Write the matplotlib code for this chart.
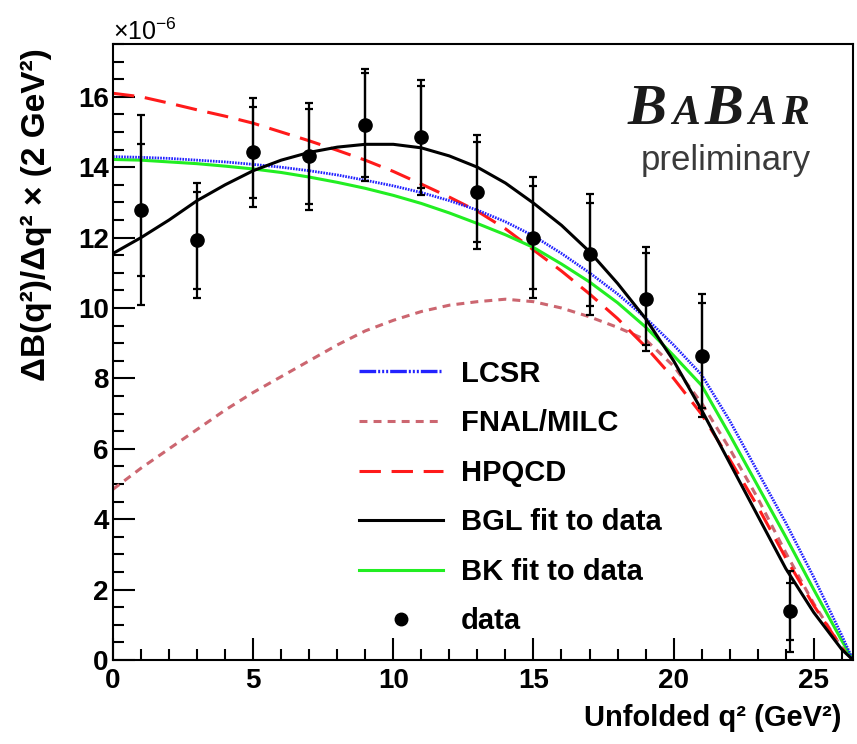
import matplotlib
matplotlib.use("Agg")
import matplotlib.pyplot as plt
from matplotlib.lines import Line2D
from matplotlib.ticker import MultipleLocator

plt.rcParams['font.family'] = ['Liberation Sans', 'DejaVu Sans']
plt.rcParams['mathtext.fontset'] = 'custom'
plt.rcParams['mathtext.rm'] = 'Liberation Sans'
plt.rcParams['mathtext.bf'] = 'Liberation Sans:bold'

# data points (x 1e-6)
q2_pts = [1, 3, 5, 7, 9, 11, 13, 15, 17, 19, 21, 24.15]
bf_pts = [12.78, 11.92, 14.42, 14.31, 15.2, 14.85, 13.3, 12.0, 11.52, 10.25, 8.65, 1.38]
err_stat = [1.87, 1.38, 1.3, 1.35, 1.47, 1.45, 1.43, 1.47, 1.47, 1.3, 1.5, 0.8]
err_tot = [2.7, 1.63, 1.54, 1.52, 1.6, 1.63, 1.62, 1.72, 1.72, 1.47, 1.75, 1.15]

# curves
q2_curve = [0, 1, 2, 3, 4, 5, 6, 7, 8, 9, 10, 11, 12, 13, 14, 15, 16, 17, 18, 19,
            20, 21, 22, 23, 24, 25, 26, 26.4]
lcsr = [14.3, 14.28, 14.25, 14.2, 14.15, 14.08, 14.0, 13.9, 13.78, 13.63, 13.47, 13.28,
        13.05, 12.78, 12.45, 12.05, 11.55, 11.0, 10.4, 9.72, 8.95, 8.1, 6.8, 5.35, 3.9,
        2.35, 0.7, 0]
fnal = [4.85, 5.45, 6.0, 6.55, 7.1, 7.6, 8.05, 8.5, 8.95, 9.35, 9.65, 9.9, 10.08, 10.18,
        10.25, 10.18, 10.0, 9.75, 9.45, 9.1, 8.35, 7.3, 6.0, 4.6, 3.05, 1.6, 0.35, 0]
hpqcd = [16.1, 16.0, 15.82, 15.63, 15.45, 15.25, 15.0, 14.75, 14.48, 14.2, 13.88, 13.52,
         13.15, 12.75, 12.25, 11.65, 11.05, 10.4, 9.7, 8.9, 8.0, 6.98, 5.7, 4.36, 2.9,
         1.55, 0.35, 0]
bgl = [11.55, 12.0, 12.5, 13.05, 13.5, 13.9, 14.2, 14.42, 14.57, 14.65, 14.65, 14.55,
       14.32, 14.0, 13.55, 12.98, 12.35, 11.6, 10.7, 9.7, 8.5, 7.1, 5.6, 4.1, 2.6, 1.35,
       0.3, 0]
bk = [14.22, 14.2, 14.15, 14.1, 14.03, 13.95, 13.85, 13.72, 13.57, 13.4, 13.2, 12.97,
      12.7, 12.4, 12.08, 11.72, 11.25, 10.74, 10.15, 9.46, 8.65, 7.8, 6.4, 4.95, 3.5,
      2.0, 0.55, 0]

W, H = 857, 744
fig = plt.figure(figsize=(W / 100, H / 100), dpi=100)
ax = fig.add_axes([113 / W, 1 - 660 / H, (853 - 113) / W, (660 - 44) / H])

fnal_dash = (2.6, 2.0)
hpqcd_dash = (7, 3.5)
ax.plot(q2_curve, fnal, color='#cc6670', lw=2.2, dashes=fnal_dash)
ax.plot(q2_curve, hpqcd, color='#ff1a1a', lw=2.2, dashes=hpqcd_dash)
ax.plot(q2_curve, bk, color='#22ee22', lw=2.2)
ax.plot(q2_curve, lcsr, color='#2222ff', lw=2.0, dashes=(0.6, 0.4))
ax.plot(q2_curve, bgl, color='black', lw=2.2)

ax.errorbar(q2_pts, bf_pts, yerr=err_tot, fmt='none', ecolor='black', elinewidth=1.6,
            capsize=3, capthick=1.6)
ax.errorbar(q2_pts, bf_pts, yerr=err_stat, fmt='o', color='black', ms=9.5,
            elinewidth=1.6, capsize=3, capthick=1.6)

ax.set_xlim(0, 26.4)
ax.set_ylim(0, 17.5)
ax.xaxis.set_major_locator(MultipleLocator(5))
ax.xaxis.set_minor_locator(MultipleLocator(1))
ax.yaxis.set_major_locator(MultipleLocator(2))
ax.yaxis.set_minor_locator(MultipleLocator(0.5))
ax.tick_params(which='both', direction='in', width=1.5, top=False, right=False)
ax.tick_params(which='major', length=16)
ax.tick_params(which='minor', length=8)
ax.tick_params(axis='x', pad=6, labelsize=20)
ax.tick_params(axis='y', pad=3, labelsize=20)
for lab in ax.get_xticklabels() + ax.get_yticklabels():
    lab.set_fontweight('bold')
for s in ax.spines.values():
    s.set_linewidth(1.5)

handles = [
    Line2D([], [], color='#2222ff', lw=2.4, dashes=(5, 0.6, 0.6, 0.6, 0.6, 0.6, 0.6, 0.6)),
    Line2D([], [], color='#cc6670', lw=2.2, dashes=fnal_dash),
    Line2D([], [], color='#ff1a1a', lw=2.2, dashes=hpqcd_dash),
    Line2D([], [], color='black', lw=2.2),
    Line2D([], [], color='#22ee22', lw=2.2),
    Line2D([], [], color='black', marker='o', ms=9, ls='none'),
]
labels = ['LCSR', 'FNAL/MILC', 'HPQCD', 'BGL fit to data', 'BK fit to data', 'data']
ax.legend(handles, labels, loc='upper left', bbox_to_anchor=(344 / W, 1 - 345 / H),
          bbox_transform=fig.transFigure, frameon=False, borderpad=0,
          handlelength=2.9, handletextpad=0.6, labelspacing=0.74,
          prop={'size': 21, 'weight': 'bold'})

fig.text(113 / W, 1 - 40 / H, r'$\times$10$^{-6}$', fontsize=18, va='baseline', ha='left')
fig.text(36 / W, 1 - 215 / H, 'ΔB(q²)/Δq² × (2 GeV²)', rotation=90, fontsize=24,
         fontweight='bold', ha='center', va='center')
fig.text(842 / W, 1 - 718 / H, 'Unfolded q² (GeV²)', fontsize=21, fontweight='bold',
         ha='right', va='center')

# BaBar logo
renderer = fig.canvas.get_renderer()
x = 628
for txt, size in [('B', 42), ('A', 30), ('B', 42), ('A', 30), ('R', 30)]:
    t = fig.text(x / W, 1 - 124 / H, txt, fontsize=size, family='Liberation Serif',
                 weight='bold', style='italic', va='baseline', ha='left', color='#1a1a1a')
    bb = t.get_window_extent(renderer)
    x = bb.x1 + 5
fig.text(726 / W, 1 - 170 / H, 'preliminary', fontsize=25, color='#3a3a3a',
         ha='center', va='baseline')

fig.savefig('out.png', dpi=100)
